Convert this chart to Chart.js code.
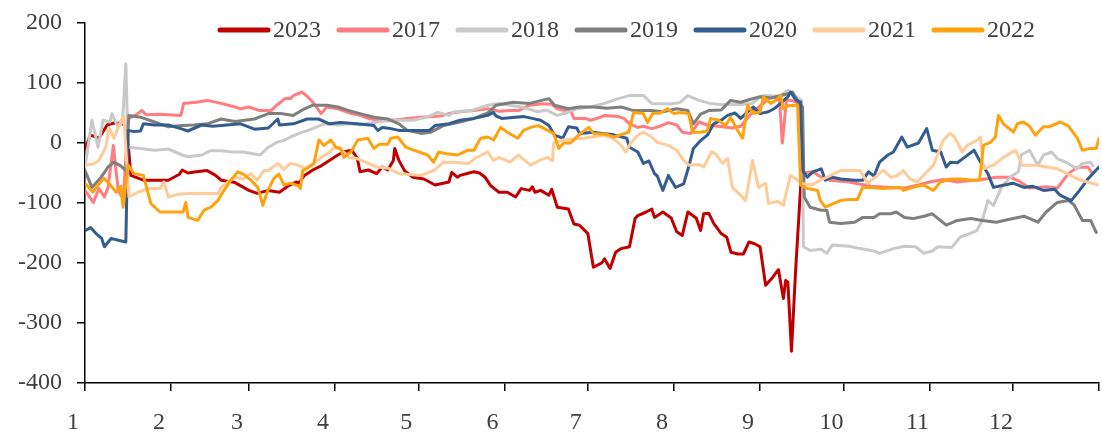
<!DOCTYPE html>
<html>
<head>
<meta charset="utf-8">
<script src="https://cdn.jsdelivr.net/npm/chart.js@4.4.0/dist/chart.umd.min.js"></script>
<style>
  html, body { margin: 0; padding: 0; background: #fff; }
  #wrap { width: 1102px; height: 436px; }
</style>
</head>
<body>
<div id="wrap"><canvas id="spreadChart" width="1102" height="436"></canvas></div>
<script>
// x = day of the year (0 = 1 Jan), y = value
var monthTicks = [0, 31, 59, 90, 120, 151, 181, 212, 243, 273, 304, 334, 365];
var monthLabels = ['1', '2', '3', '4', '5', '6', '7', '8', '9', '10', '11', '12', ''];

var yearNames = ['2023', '2017', '2018', '2019', '2020', '2021', '2022'];
var yearColors = ['#C00000', '#FF7C80', '#C9C9C9', '#7F7F7F', '#335D8F', '#FFCC99', '#FFA20F'];

var s2023 = [[0,-9],[2,13],[5,8],[8,30],[10,33],[13,33],[15,28],[16.5,-54],[21,-62],[27,-62],[30,-62],[34,-52],[35,-45],[37,-50],[40,-48],[44,-46],[47,-54],[49,-62],[54,-66],[59,-79],[62,-84],[66,-79],[70,-82],[73,-72],[76,-65],[77,-67],[79,-54],[82,-45],[85,-38],[87,-32],[91,-20],[93,-15],[96,-12],[98,-25],[99,-48],[102,-45],[105,-51],[107,-40],[109,-45],[111,-29],[111.5,-9],[113,-29],[115,-46],[118,-57],[122,-60],[126,-70],[131,-65],[132,-49],[134,-57],[135,-54],[140,-48],[142,-50],[144,-57],[146,-71],[149,-82],[152,-82],[155,-90],[157,-76],[160,-79],[161,-73],[162,-82],[164,-79],[167,-87],[168,-77],[170,-107],[174,-110],[176,-135],[178,-137],[181,-151],[183,-207],[186,-200],[187,-193],[189,-209],[191,-182],[193,-176],[196,-173],[198,-126],[199,-121],[202,-115],[204,-110],[205,-124],[208,-115],[211,-125],[213,-148],[215,-154],[217,-115],[220,-125],[221.6,-146],[222.7,-118],[224.5,-117],[226.3,-134],[229,-151],[231,-157],[232.5,-182],[235,-185],[237,-185],[239,-165],[241,-168],[243,-173],[245,-237],[247.5,-224],[249.6,-211],[251.4,-259],[252.2,-229],[253,-232],[254.3,-347],[255.8,-212],[257.6,-73],[258.3,-50]];

var s2017 = [[0,-79],[3,-99],[5,-76],[7,-90],[8.3,-74],[9.5,-30],[10.2,-4],[11,-40],[12,-79],[13,-88],[14,-80],[15.5,40],[18,46],[20.5,54],[22,47],[27,48],[34.5,46],[35.5,66],[40,68],[44,71],[49,66],[54,60],[56,57],[59,60],[63,54],[67,54],[69,63],[72,74],[74,74],[75,79],[78,85],[80,78],[82,68],[85,49],[87,60],[91,57],[96,49],[99,46],[102,41],[106,38],[111,38],[116,41],[121,43],[128,45],[131,49],[135,52],[140,54],[145,57],[149,53],[153,54],[156,54],[160,63],[164,65],[168,65],[170,57],[175,52],[176,41],[180,41],[182,38],[185,42],[187,46],[192,44],[194,41],[196,32],[199,26],[201,28],[204,24],[207,28],[210,34],[213,30],[215,18],[218,16],[221,35],[224,30],[228,28],[233,25],[236,28],[240,50],[244,65],[247,78],[250,72],[251,0],[252.5,72],[255,70],[257,65],[258.6,-50],[262,-48],[265,-57],[268,-62],[275,-65],[283,-72],[290,-74],[295,-75],[300,-70],[304,-65],[309,-61],[314,-65],[318,-63],[323,-61],[328,-57],[333,-57],[336,-63],[340,-75],[346,-73],[350,-75],[354,-51],[357,-41],[361,-40],[362.5,-50]];

var s2018 = [[0,-40],[2.5,38],[4.7,-7],[6.5,38],[9,35],[9.7,49],[11.9,26],[13.5,35],[14.7,132],[15.5,-7],[20,-9],[25,-12],[30,-10],[35,-20],[37,-23],[42,-20],[45,-13],[49,-13],[53,-15],[57,-15],[63,-20],[66,-7],[69,1],[72,5],[74,10],[77,16],[82,24],[86,32],[91,30],[95,32],[99,30],[104,34],[111,38],[118,38],[123,43],[127,51],[131,46],[133,52],[139,54],[145,63],[149,66],[157,60],[163,52],[166,55],[170,46],[173,50],[177,57],[182,60],[187,66],[192,74],[196,79],[201,79],[204,66],[210,65],[214,67],[217,79],[221,71],[225,66],[229,64],[236,64],[240,66],[244,79],[250,78],[253,88],[255,80],[258,71],[258.6,-173],[261,-179],[265,-177],[267,-184],[269,-170],[275,-172],[279,-176],[284,-180],[286,-184],[291,-176],[295,-172],[299,-173],[302,-184],[305,-180],[307,-173],[312,-174],[315,-157],[318,-152],[321,-146],[323,-129],[325,-96],[327,-104],[330,-73],[333,-57],[336,-48],[337,-20],[340,-12],[343,-37],[345,-20],[348,-15],[350,-26],[354,-34],[357,-43],[359,-34],[362,-32],[362.8,-38]];

var s2019 = [[0,-46],[2.5,-74],[5.8,-57],[8.3,-40],[10.4,-32],[12.9,-38],[14.7,-46],[15.8,46],[20,43],[25,35],[30,27],[35,29],[39,30],[44,32],[49,40],[54,36],[61,40],[66,49],[70.5,49],[75,46],[79,57],[82,63],[87,63],[91,60],[95,54],[99,49],[104,43],[109,40],[113,32],[116,21],[121,16],[124.5,18],[129,29],[135,35],[140,41],[145,50],[148,63],[154,68],[160,66],[167,74],[169,63],[174,57],[178,60],[183,60],[188,58],[193,60],[197.5,54],[204,54],[208,52],[213,57],[217,54],[219,32],[221.6,48],[224.5,54],[229,55],[232.4,71],[236,68],[239.6,73],[243,77],[247,75],[253,82],[254.7,85],[256.8,68],[258.3,60],[258.9,-90],[261,-107],[265,-112],[267,-112],[268,-132],[272,-134],[277,-132],[280,-124],[284,-124],[286,-118],[290,-118],[292,-115],[295,-124],[298,-126],[302,-122],[305,-118],[310,-137],[314,-129],[319,-126],[323,-129],[328,-132],[332,-128],[338,-122],[343,-132],[346,-115],[350,-99],[354,-96],[356,-103],[359,-129],[362,-129],[364,-149]];

var s2020 = [[0,-146],[2,-141],[4,-151],[6,-159],[7,-173],[9.4,-159],[12,-162],[14.7,-165],[15.5,21],[17.6,19],[20,20],[21,32],[25,30],[30,30],[34.5,24],[37,20],[42,30],[46,28],[51,30],[56,32],[61,23],[66,25],[69.4,40],[70,30],[75,32],[80,40],[84,40],[88,32],[92,34],[98,32],[104,29],[105.4,21],[107,26],[110,24],[113,21],[119,21],[124,21],[126,29],[131,32],[135,38],[140,41],[145,46],[147,51],[148,45],[150,41],[155,43],[158,44],[161,41],[164,38],[167,29],[169,13],[172,8],[174,27],[177,25],[178,16],[183,18],[186,16],[190,14],[195,8],[196,-7],[199,-15],[201,-34],[203,-30],[205,-51],[206,-55],[208,-79],[210,-54],[212.6,-74],[215.5,-68],[217.3,-40],[219,-9],[221.6,4],[224,13],[226.3,32],[229,38],[231.3,46],[234,50],[236,41],[238.5,52],[240.6,60],[243,49],[246,52],[248,57],[250.4,66],[253,77],[254,85],[256,71],[257.6,68],[258.3,-46],[260,-57],[262,-48],[265,-43],[266.5,-62],[269,-57],[272,-60],[277,-62],[280,-62],[282,-48],[284,-55],[286,-32],[289,-20],[291,-15],[294,10],[296,-7],[300,0],[303,24],[305,-12],[308,-15],[310,-40],[311.5,-32],[314,-33],[316,-26],[320,-12],[322,-29],[325,-51],[327,-74],[331,-70],[334,-67],[338,-74],[341,-72],[345,-79],[349,-77],[351,-87],[355,-96],[358,-79],[361,-60],[365,-40]];

var s2021 = [[0,-37],[3,-35],[5,-29],[7.5,-7],[8.6,26],[10.4,8],[13,38],[14,43],[15.8,-90],[19,-82],[23,-76],[27,-76],[28.4,-65],[30,-90],[33,-86],[37,-84],[42,-84],[48,-84],[49,-74],[53.6,-57],[57,-60],[59.7,-51],[62,-62],[64.4,-46],[66,-46],[69.4,-34],[71.6,-44],[74,-34],[76,-36],[79,-42],[82,-36],[85,-24],[88,-15],[90,-7],[92,-10],[95,-24],[98,-26],[102,-34],[105,-40],[109,-42],[113,-51],[116,-52],[121,-54],[125.5,-46],[129,-32],[133,-32],[138,-34],[141,-24],[145,-15],[147,-29],[149,-24],[153,-32],[156,-20],[160.4,-37],[164,-28],[166.5,-24],[168.3,-29],[168.7,0],[172,5],[179.5,8],[186.7,13],[190,8],[193,-4],[194.6,-15],[196.4,0],[199,13],[201,18],[204,10],[206,1],[210,-4],[213,-12],[215.5,-29],[217.3,-37],[221,-36],[222.7,-40],[225.5,-15],[227,-18],[229.5,-34],[231.3,-26],[233,-74],[235.3,-84],[237.8,-96],[240.3,-29],[242.4,-74],[245,-67],[246,-101],[249.3,-97],[251.4,-104],[253.9,-54],[256,-60],[257.6,-67],[260,-69],[262,-69],[264.7,-62],[268,-55],[271.9,-46],[279,-46],[281.7,-67],[285,-55],[287.4,-45],[290,-57],[292,-55],[294.6,-46],[297,-60],[299.6,-65],[301.8,-54],[305.4,-37],[309,5],[311.5,16],[313,10],[315.8,-15],[317.6,-4],[321.2,5],[322.3,10],[323.4,-43],[327,-37],[330.6,-24],[334.9,-12],[337.4,-37],[342,-37],[346.4,-40],[350,-43],[353.6,-51],[357.2,-60],[360.8,-65],[364.7,-70]];

var s2022 = [[0,-67],[2.9,-82],[4.7,-70],[6.8,-59],[8.6,-67],[11.2,-82],[12.9,-72],[13.7,-107],[15.5,-37],[17.6,-51],[21,-54],[23.7,-101],[27,-115],[30,-115],[35.3,-115],[36.3,-99],[37.1,-124],[40.6,-129],[42.8,-112],[45.3,-107],[47.8,-96],[50,-79],[52.5,-62],[55,-48],[57,-52],[59.7,-62],[62.2,-74],[64,-104],[65.8,-79],[68,-59],[69.8,-52],[71.6,-70],[74,-67],[77,-72],[77.5,-76],[78.4,-46],[80,-42],[82.4,-34],[84.2,5],[86,-4],[88.5,5],[90.3,-7],[92,-9],[93.2,-24],[95.7,-15],[98.2,5],[101.8,8],[104,-9],[106,-2],[109,-2],[110.1,8],[112.6,10],[115.5,-7],[118.3,-12],[123.4,-20],[125.5,-32],[127.3,-15],[130,-18],[134.2,-20],[137.8,-12],[140,-12],[142.4,8],[145,10],[147.1,5],[149.6,26],[152,18],[155.8,8],[157.9,21],[160.4,26],[163.3,29],[166.5,21],[168.7,16],[170.5,-9],[172.3,0],[174.8,0],[178.4,16],[181.3,26],[183.1,16],[188,14],[190.3,10],[195.7,18],[197.5,51],[201,49],[202.5,34],[204.3,49],[207,50],[209.7,57],[212,49],[214.4,51],[217.3,49],[218.7,18],[221.6,18],[224,20],[225.2,41],[228,38],[230.6,29],[232.4,43],[234.9,21],[236.7,8],[238.5,63],[240.6,49],[243,52],[244.2,77],[246.8,66],[249,72],[250.4,79],[251.4,57],[253,62],[256.5,63],[257.6,-70],[260.1,-76],[263.7,-79],[264.7,-96],[266.5,-107],[269.4,-101],[271.9,-96],[275,-94],[278.1,-94],[279.9,-74],[283,-74],[287,-76],[293.5,-74],[294.6,-79],[298,-74],[301.8,-70],[305.4,-79],[307.9,-65],[311.5,-60],[315,-60],[319.8,-62],[322,-62],[323.4,-4],[325.9,1],[327.7,10],[328.8,46],[330.6,32],[334.2,18],[335.6,32],[337.8,35],[340,28],[342.1,13],[345,27],[347,27],[351.1,35],[354,28],[357.2,8],[359,-12],[361.9,-9],[364,-9],[365,8]];

var yearSeries = [s2023, s2017, s2018, s2019, s2020, s2021, s2022];

var textColor = '#404040';
var serif = "'Liberation Serif', 'Times New Roman', serif";

var datasets = [];
for (var i = 0; i < yearNames.length; i++) {
	datasets.push({
		label: yearNames[i],
		data: yearSeries[i],
		borderColor: yearColors[i],
		backgroundColor: yearColors[i],
		borderWidth: 3,
		pointRadius: 0,
		tension: 0,
		borderJoinStyle: 'round',
		borderCapStyle: 'round',
		// later years in the list sit on top, like the spreadsheet
		order: yearNames.length - i
	});
}

// legend drawn inside the plot, lines + labels in one row
var lineLegend = {
	id: 'lineLegend',
	afterDraw: function(chart) {
		var ctx = chart.ctx;
		var y = 30;
		ctx.save();
		ctx.font = '24px ' + serif;
		ctx.textBaseline = 'middle';
		ctx.textAlign = 'left';
		chart.data.datasets.forEach(function(ds, idx) {
			var x0 = 218 + idx * 119;
			ctx.strokeStyle = ds.borderColor;
			ctx.lineWidth = 5;
			ctx.lineCap = 'round';
			ctx.beginPath();
			ctx.moveTo(x0 + 2, y);
			ctx.lineTo(x0 + 50, y);
			ctx.stroke();
			ctx.fillStyle = textColor;
			ctx.fillText(ds.label, x0 + 55, y + 1);
		});
		ctx.restore();
	}
};

var ctx = document.getElementById('spreadChart').getContext('2d');

var myChart = new Chart(ctx, {
	type: 'line',
	data: { datasets: datasets },
	options: {
		responsive: false,
		animation: false,
		devicePixelRatio: 1,
		layout: { padding: { top: 23, right: 3, bottom: 0, left: 0 } },
		plugins: {
			legend: { display: false },
			tooltip: { enabled: false }
		},
		scales: {
			x: {
				type: 'linear',
				min: 0,
				max: 365,
				afterBuildTicks: function(scale) {
					scale.ticks = monthTicks.map(function(v) { return { value: v }; });
				},
				afterFit: function(scale) {
					scale.height = 53;
					scale.paddingLeft = 0;
					scale.paddingRight = 0;
				},
				ticks: {
					autoSkip: false,
					maxRotation: 0,
					labelOffset: -12,
					padding: 17,
					color: textColor,
					font: { family: serif, size: 24 },
					callback: function(value, index) { return monthLabels[index]; }
				},
				grid: { drawOnChartArea: false, drawTicks: true, tickLength: 8, color: '#000', lineWidth: 1.5 },
				border: { display: true, color: '#000', width: 1.5 }
			},
			y: {
				min: -400,
				max: 200,
				afterFit: function(scale) {
					scale.width = 85;
					scale.paddingTop = 0;
					scale.paddingBottom = 0;
				},
				ticks: {
					stepSize: 100,
					padding: 15,
					color: textColor,
					font: { family: serif, size: 24 }
				},
				grid: { drawOnChartArea: false, drawTicks: true, tickLength: 8, color: '#000', lineWidth: 1.5 },
				border: { display: true, color: '#000', width: 1.5 }
			}
		}
	},
	plugins: [lineLegend]
});
</script>
</body>
</html>
